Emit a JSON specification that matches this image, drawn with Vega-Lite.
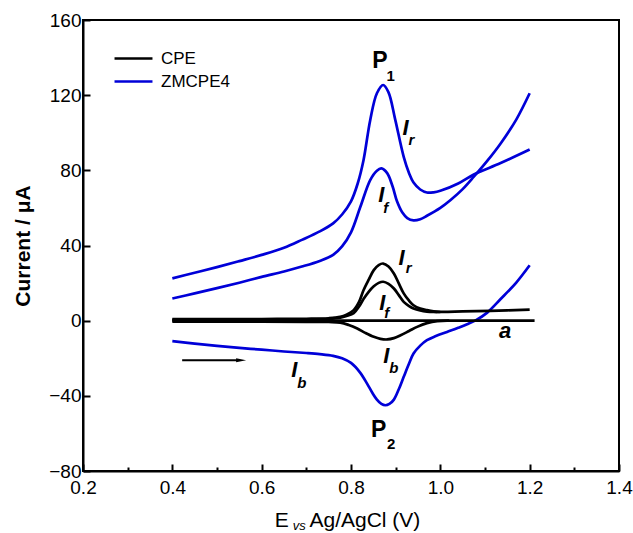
{
  "$schema": "https://vega.github.io/schema/vega-lite/v6.json",
  "autosize": {"type": "none"},
  "width": 536,
  "height": 451,
  "padding": {"left": 83, "top": 20, "right": 14, "bottom": 62},
  "background": "white",
  "config": {
    "view": {"stroke": "black", "strokeWidth": 2},
    "font": "Liberation Sans",
    "axis": {
      "domainColor": "black",
      "domainWidth": 2,
      "tickColor": "black",
      "tickWidth": 2,
      "labelColor": "black",
      "labelFont": "Liberation Sans",
      "labelFontSize": 19,
      "titleColor": "black",
      "titleFont": "Liberation Sans",
      "grid": false
    }
  },
  "datasets": {
    "curves": [
      {"electrode": "ZMCPE4", "trace": "Ir", "E": 0.40, "I": 22.5},
      {"electrode": "ZMCPE4", "trace": "Ir", "E": 0.45, "I": 25.5},
      {"electrode": "ZMCPE4", "trace": "Ir", "E": 0.50, "I": 28.5},
      {"electrode": "ZMCPE4", "trace": "Ir", "E": 0.55, "I": 31.7},
      {"electrode": "ZMCPE4", "trace": "Ir", "E": 0.60, "I": 35.0},
      {"electrode": "ZMCPE4", "trace": "Ir", "E": 0.65, "I": 38.8},
      {"electrode": "ZMCPE4", "trace": "Ir", "E": 0.69, "I": 43.0},
      {"electrode": "ZMCPE4", "trace": "Ir", "E": 0.73, "I": 47.5},
      {"electrode": "ZMCPE4", "trace": "Ir", "E": 0.76, "I": 51.8},
      {"electrode": "ZMCPE4", "trace": "Ir", "E": 0.78, "I": 56.5},
      {"electrode": "ZMCPE4", "trace": "Ir", "E": 0.80, "I": 63.5},
      {"electrode": "ZMCPE4", "trace": "Ir", "E": 0.815, "I": 73.0},
      {"electrode": "ZMCPE4", "trace": "Ir", "E": 0.828, "I": 85.4},
      {"electrode": "ZMCPE4", "trace": "Ir", "E": 0.843, "I": 106.7},
      {"electrode": "ZMCPE4", "trace": "Ir", "E": 0.858, "I": 121.0},
      {"electrode": "ZMCPE4", "trace": "Ir", "E": 0.872, "I": 125.4},
      {"electrode": "ZMCPE4", "trace": "Ir", "E": 0.884, "I": 121.5},
      {"electrode": "ZMCPE4", "trace": "Ir", "E": 0.899, "I": 107.0},
      {"electrode": "ZMCPE4", "trace": "Ir", "E": 0.918, "I": 87.2},
      {"electrode": "ZMCPE4", "trace": "Ir", "E": 0.93, "I": 78.5},
      {"electrode": "ZMCPE4", "trace": "Ir", "E": 0.94, "I": 73.5},
      {"electrode": "ZMCPE4", "trace": "Ir", "E": 0.955, "I": 69.8},
      {"electrode": "ZMCPE4", "trace": "Ir", "E": 0.97, "I": 68.2},
      {"electrode": "ZMCPE4", "trace": "Ir", "E": 0.985, "I": 68.3},
      {"electrode": "ZMCPE4", "trace": "Ir", "E": 1.00, "I": 69.1},
      {"electrode": "ZMCPE4", "trace": "Ir", "E": 1.04, "I": 73.0},
      {"electrode": "ZMCPE4", "trace": "Ir", "E": 1.075, "I": 77.8},
      {"electrode": "ZMCPE4", "trace": "Ir", "E": 1.135, "I": 83.9},
      {"electrode": "ZMCPE4", "trace": "Ir", "E": 1.20, "I": 91.1},

      {"electrode": "ZMCPE4", "trace": "If", "E": 0.40, "I": 11.8},
      {"electrode": "ZMCPE4", "trace": "If", "E": 0.45, "I": 14.5},
      {"electrode": "ZMCPE4", "trace": "If", "E": 0.50, "I": 17.3},
      {"electrode": "ZMCPE4", "trace": "If", "E": 0.55, "I": 20.2},
      {"electrode": "ZMCPE4", "trace": "If", "E": 0.60, "I": 23.3},
      {"electrode": "ZMCPE4", "trace": "If", "E": 0.65, "I": 26.2},
      {"electrode": "ZMCPE4", "trace": "If", "E": 0.69, "I": 28.8},
      {"electrode": "ZMCPE4", "trace": "If", "E": 0.73, "I": 31.8},
      {"electrode": "ZMCPE4", "trace": "If", "E": 0.76, "I": 35.0},
      {"electrode": "ZMCPE4", "trace": "If", "E": 0.78, "I": 39.5},
      {"electrode": "ZMCPE4", "trace": "If", "E": 0.80, "I": 47.0},
      {"electrode": "ZMCPE4", "trace": "If", "E": 0.821, "I": 60.6},
      {"electrode": "ZMCPE4", "trace": "If", "E": 0.843, "I": 74.8},
      {"electrode": "ZMCPE4", "trace": "If", "E": 0.858, "I": 79.8},
      {"electrode": "ZMCPE4", "trace": "If", "E": 0.868, "I": 81.0},
      {"electrode": "ZMCPE4", "trace": "If", "E": 0.881, "I": 78.5},
      {"electrode": "ZMCPE4", "trace": "If", "E": 0.893, "I": 71.5},
      {"electrode": "ZMCPE4", "trace": "If", "E": 0.903, "I": 63.5},
      {"electrode": "ZMCPE4", "trace": "If", "E": 0.915, "I": 57.5},
      {"electrode": "ZMCPE4", "trace": "If", "E": 0.926, "I": 54.6},
      {"electrode": "ZMCPE4", "trace": "If", "E": 0.94, "I": 53.4},
      {"electrode": "ZMCPE4", "trace": "If", "E": 0.955, "I": 54.0},
      {"electrode": "ZMCPE4", "trace": "If", "E": 0.97, "I": 55.8},
      {"electrode": "ZMCPE4", "trace": "If", "E": 1.00, "I": 60.0},
      {"electrode": "ZMCPE4", "trace": "If", "E": 1.023, "I": 64.2},
      {"electrode": "ZMCPE4", "trace": "If", "E": 1.05, "I": 70.0},
      {"electrode": "ZMCPE4", "trace": "If", "E": 1.075, "I": 76.6},
      {"electrode": "ZMCPE4", "trace": "If", "E": 1.105, "I": 85.0},
      {"electrode": "ZMCPE4", "trace": "If", "E": 1.135, "I": 94.3},
      {"electrode": "ZMCPE4", "trace": "If", "E": 1.17, "I": 107.0},
      {"electrode": "ZMCPE4", "trace": "If", "E": 1.20, "I": 121.0},

      {"electrode": "ZMCPE4", "trace": "Ib", "E": 0.40, "I": -10.9},
      {"electrode": "ZMCPE4", "trace": "Ib", "E": 0.45, "I": -12.2},
      {"electrode": "ZMCPE4", "trace": "Ib", "E": 0.50, "I": -13.4},
      {"electrode": "ZMCPE4", "trace": "Ib", "E": 0.55, "I": -14.5},
      {"electrode": "ZMCPE4", "trace": "Ib", "E": 0.60, "I": -15.4},
      {"electrode": "ZMCPE4", "trace": "Ib", "E": 0.65, "I": -16.4},
      {"electrode": "ZMCPE4", "trace": "Ib", "E": 0.70, "I": -17.2},
      {"electrode": "ZMCPE4", "trace": "Ib", "E": 0.73, "I": -17.8},
      {"electrode": "ZMCPE4", "trace": "Ib", "E": 0.76, "I": -18.7},
      {"electrode": "ZMCPE4", "trace": "Ib", "E": 0.78, "I": -20.0},
      {"electrode": "ZMCPE4", "trace": "Ib", "E": 0.80, "I": -22.5},
      {"electrode": "ZMCPE4", "trace": "Ib", "E": 0.82, "I": -27.5},
      {"electrode": "ZMCPE4", "trace": "Ib", "E": 0.836, "I": -33.5},
      {"electrode": "ZMCPE4", "trace": "Ib", "E": 0.848, "I": -38.5},
      {"electrode": "ZMCPE4", "trace": "Ib", "E": 0.858, "I": -42.0},
      {"electrode": "ZMCPE4", "trace": "Ib", "E": 0.868, "I": -44.3},
      {"electrode": "ZMCPE4", "trace": "Ib", "E": 0.877, "I": -45.0},
      {"electrode": "ZMCPE4", "trace": "Ib", "E": 0.886, "I": -44.3},
      {"electrode": "ZMCPE4", "trace": "Ib", "E": 0.896, "I": -42.0},
      {"electrode": "ZMCPE4", "trace": "Ib", "E": 0.907, "I": -36.5},
      {"electrode": "ZMCPE4", "trace": "Ib", "E": 0.918, "I": -29.9},
      {"electrode": "ZMCPE4", "trace": "Ib", "E": 0.93, "I": -22.8},
      {"electrode": "ZMCPE4", "trace": "Ib", "E": 0.94, "I": -17.5},
      {"electrode": "ZMCPE4", "trace": "Ib", "E": 0.955, "I": -13.3},
      {"electrode": "ZMCPE4", "trace": "Ib", "E": 0.97, "I": -10.4},
      {"electrode": "ZMCPE4", "trace": "Ib", "E": 0.99, "I": -8.2},
      {"electrode": "ZMCPE4", "trace": "Ib", "E": 1.015, "I": -6.0},
      {"electrode": "ZMCPE4", "trace": "Ib", "E": 1.04, "I": -3.8},
      {"electrode": "ZMCPE4", "trace": "Ib", "E": 1.06, "I": -1.9},
      {"electrode": "ZMCPE4", "trace": "Ib", "E": 1.08, "I": 0.3},
      {"electrode": "ZMCPE4", "trace": "Ib", "E": 1.105, "I": 4.3},
      {"electrode": "ZMCPE4", "trace": "Ib", "E": 1.135, "I": 11.5},
      {"electrode": "ZMCPE4", "trace": "Ib", "E": 1.17, "I": 20.3},
      {"electrode": "ZMCPE4", "trace": "Ib", "E": 1.20, "I": 29.5},

      {"electrode": "CPE", "trace": "Ir", "E": 0.40, "I": 0.8},
      {"electrode": "CPE", "trace": "Ir", "E": 0.50, "I": 0.8},
      {"electrode": "CPE", "trace": "Ir", "E": 0.60, "I": 0.9},
      {"electrode": "CPE", "trace": "Ir", "E": 0.70, "I": 1.0},
      {"electrode": "CPE", "trace": "Ir", "E": 0.75, "I": 1.3},
      {"electrode": "CPE", "trace": "Ir", "E": 0.776, "I": 2.0},
      {"electrode": "CPE", "trace": "Ir", "E": 0.79, "I": 3.2},
      {"electrode": "CPE", "trace": "Ir", "E": 0.806, "I": 5.6},
      {"electrode": "CPE", "trace": "Ir", "E": 0.818, "I": 10.0},
      {"electrode": "CPE", "trace": "Ir", "E": 0.828, "I": 16.2},
      {"electrode": "CPE", "trace": "Ir", "E": 0.84, "I": 22.0},
      {"electrode": "CPE", "trace": "Ir", "E": 0.851, "I": 26.9},
      {"electrode": "CPE", "trace": "Ir", "E": 0.862, "I": 29.6},
      {"electrode": "CPE", "trace": "Ir", "E": 0.872, "I": 30.4},
      {"electrode": "CPE", "trace": "Ir", "E": 0.884, "I": 28.8},
      {"electrode": "CPE", "trace": "Ir", "E": 0.896, "I": 25.1},
      {"electrode": "CPE", "trace": "Ir", "E": 0.907, "I": 19.8},
      {"electrode": "CPE", "trace": "Ir", "E": 0.918, "I": 14.5},
      {"electrode": "CPE", "trace": "Ir", "E": 0.93, "I": 10.6},
      {"electrode": "CPE", "trace": "Ir", "E": 0.94, "I": 8.2},
      {"electrode": "CPE", "trace": "Ir", "E": 0.955, "I": 6.4},
      {"electrode": "CPE", "trace": "Ir", "E": 0.97, "I": 5.6},
      {"electrode": "CPE", "trace": "Ir", "E": 0.985, "I": 5.0},
      {"electrode": "CPE", "trace": "Ir", "E": 1.00, "I": 4.7},
      {"electrode": "CPE", "trace": "Ir", "E": 1.05, "I": 4.9},
      {"electrode": "CPE", "trace": "Ir", "E": 1.112, "I": 5.2},
      {"electrode": "CPE", "trace": "Ir", "E": 1.20, "I": 5.9},

      {"electrode": "CPE", "trace": "If", "E": 0.40, "I": 0.5},
      {"electrode": "CPE", "trace": "If", "E": 0.50, "I": 0.5},
      {"electrode": "CPE", "trace": "If", "E": 0.60, "I": 0.6},
      {"electrode": "CPE", "trace": "If", "E": 0.70, "I": 0.7},
      {"electrode": "CPE", "trace": "If", "E": 0.75, "I": 1.0},
      {"electrode": "CPE", "trace": "If", "E": 0.776, "I": 1.6},
      {"electrode": "CPE", "trace": "If", "E": 0.79, "I": 2.5},
      {"electrode": "CPE", "trace": "If", "E": 0.806, "I": 4.0},
      {"electrode": "CPE", "trace": "If", "E": 0.818, "I": 7.5},
      {"electrode": "CPE", "trace": "If", "E": 0.828, "I": 11.5},
      {"electrode": "CPE", "trace": "If", "E": 0.84, "I": 15.5},
      {"electrode": "CPE", "trace": "If", "E": 0.851, "I": 18.3},
      {"electrode": "CPE", "trace": "If", "E": 0.862, "I": 20.1},
      {"electrode": "CPE", "trace": "If", "E": 0.872, "I": 20.7},
      {"electrode": "CPE", "trace": "If", "E": 0.884, "I": 19.6},
      {"electrode": "CPE", "trace": "If", "E": 0.896, "I": 17.1},
      {"electrode": "CPE", "trace": "If", "E": 0.907, "I": 13.6},
      {"electrode": "CPE", "trace": "If", "E": 0.918, "I": 10.0},
      {"electrode": "CPE", "trace": "If", "E": 0.93, "I": 7.8},
      {"electrode": "CPE", "trace": "If", "E": 0.94, "I": 6.5},
      {"electrode": "CPE", "trace": "If", "E": 0.955, "I": 5.4},
      {"electrode": "CPE", "trace": "If", "E": 0.97, "I": 4.8},
      {"electrode": "CPE", "trace": "If", "E": 0.985, "I": 4.6},
      {"electrode": "CPE", "trace": "If", "E": 1.00, "I": 4.6},

      {"electrode": "CPE", "trace": "Ib", "E": 0.40, "I": -0.5},
      {"electrode": "CPE", "trace": "Ib", "E": 0.60, "I": -0.5},
      {"electrode": "CPE", "trace": "Ib", "E": 0.70, "I": -0.6},
      {"electrode": "CPE", "trace": "Ib", "E": 0.75, "I": -0.7},
      {"electrode": "CPE", "trace": "Ib", "E": 0.776, "I": -1.0},
      {"electrode": "CPE", "trace": "Ib", "E": 0.795, "I": -2.3},
      {"electrode": "CPE", "trace": "Ib", "E": 0.814, "I": -4.2},
      {"electrode": "CPE", "trace": "Ib", "E": 0.832, "I": -6.5},
      {"electrode": "CPE", "trace": "Ib", "E": 0.851, "I": -8.6},
      {"electrode": "CPE", "trace": "Ib", "E": 0.866, "I": -9.7},
      {"electrode": "CPE", "trace": "Ib", "E": 0.881, "I": -10.0},
      {"electrode": "CPE", "trace": "Ib", "E": 0.896, "I": -9.3},
      {"electrode": "CPE", "trace": "Ib", "E": 0.911, "I": -7.8},
      {"electrode": "CPE", "trace": "Ib", "E": 0.93, "I": -5.5},
      {"electrode": "CPE", "trace": "Ib", "E": 0.948, "I": -3.3},
      {"electrode": "CPE", "trace": "Ib", "E": 0.97, "I": -1.3},
      {"electrode": "CPE", "trace": "Ib", "E": 0.993, "I": -0.2},
      {"electrode": "CPE", "trace": "Ib", "E": 1.02, "I": 0.0},

      {"electrode": "CPE", "trace": "a", "E": 0.40, "I": 0.0},
      {"electrode": "CPE", "trace": "a", "E": 1.211, "I": 0.0}
    ],
    "arrow": [
      {"E": 0.422, "E2": 0.545, "I": -21.0, "Ehead": 0.554}
    ],
    "notes": [
      {"kind": "peak", "text": "P", "E": 0.865, "I": 134.3},
      {"kind": "peakIndex", "text": "1", "E": 0.889, "I": 127.7},
      {"kind": "peak", "text": "P", "E": 0.862, "I": -61.9},
      {"kind": "peakIndex", "text": "2", "E": 0.890, "I": -68.1},
      {"kind": "current", "text": "I", "E": 0.922, "I": 98.8},
      {"kind": "currentSub", "text": "r", "E": 0.935, "I": 93.4},
      {"kind": "current", "text": "I", "E": 0.868, "I": 63.3},
      {"kind": "currentSub", "text": "f", "E": 0.878, "I": 57.1},
      {"kind": "current", "text": "I", "E": 0.913, "I": 29.5},
      {"kind": "currentSub", "text": "r", "E": 0.929, "I": 25.1},
      {"kind": "current", "text": "I", "E": 0.870, "I": 5.6},
      {"kind": "currentSub", "text": "f", "E": 0.880, "I": 1.2},
      {"kind": "current", "text": "I", "E": 0.879, "I": -22.3},
      {"kind": "currentSub", "text": "b", "E": 0.896, "I": -28.1},
      {"kind": "current", "text": "I", "E": 0.673, "I": -30.0},
      {"kind": "currentSub", "text": "b", "E": 0.690, "I": -35.6},
      {"kind": "current", "text": "a", "E": 1.145, "I": -9.0}
    ],
    "xTitle": [
      {"part": "symbol", "text": "E", "E": 0.645, "I": -109.8},
      {"part": "sub", "text": "vs", "E": 0.684, "I": -111.2},
      {"part": "unit", "text": "Ag/AgCl (V)", "E": 0.707, "I": -109.8}
    ]
  },
  "layer": [
    {
      "data": {"name": "curves"},
      "mark": {"type": "line", "strokeWidth": 2.7, "interpolate": "catmull-rom", "clip": true},
      "encoding": {
        "x": {
          "field": "E", "type": "quantitative",
          "scale": {"domain": [0.2, 1.4], "nice": false, "zero": false},
          "axis": {
            "title": null,
            "values": [0.2, 0.3, 0.4, 0.5, 0.6, 0.7, 0.8, 0.9, 1.0, 1.1, 1.2, 1.3, 1.4],
            "labelExpr": "abs(round(datum.value * 10)) % 2 == 0 ? format(datum.value, '.1f') : ''",
            "tickSize": {"condition": {"test": "abs(round(datum.value * 10)) % 2 == 1", "value": -4}, "value": -7},
            "labelPadding": 14,
            "labelFlush": false,
            "labelOverlap": false
          }
        },
        "y": {
          "field": "I", "type": "quantitative",
          "scale": {"domain": [-80, 160], "nice": false, "zero": false},
          "axis": {
            "title": "Current / \u03bcA",
            "titleFontSize": 21,
            "titleFontWeight": "bold",
            "titlePadding": 15,
            "values": [-80, -60, -40, -20, 0, 20, 40, 60, 80, 100, 120, 140, 160],
            "labelExpr": "datum.value % 40 == 0 ? format(datum.value, 'd') : ''",
            "tickSize": {"condition": {"test": "datum.value % 40 != 0", "value": -4}, "value": -7},
            "labelPadding": 9,
            "labelFlush": false,
            "labelOverlap": false
          }
        },
        "color": {
          "field": "electrode", "type": "nominal",
          "scale": {"domain": ["CPE", "ZMCPE4"], "range": ["#000000", "#0000d8"]},
          "legend": {
            "orient": "none",
            "legendX": 42,
            "legendY": 30,
            "title": null,
            "padding": 0,
            "symbolType": "M -4 0 H 4",
            "symbolSize": 90,
            "symbolStrokeWidth": 2.7,
            "labelOffset": 19,
            "rowPadding": 5,
            "labelFont": "Liberation Sans",
            "labelFontSize": 17,
            "labelColor": "black"
          }
        },
        "detail": {"field": "trace", "type": "nominal"}
      }
    },
    {
      "data": {"name": "arrow"},
      "mark": {"type": "rule", "strokeWidth": 2, "color": "black"},
      "encoding": {
        "x": {"field": "E", "type": "quantitative"},
        "x2": {"field": "E2"},
        "y": {"field": "I", "type": "quantitative"}
      }
    },
    {
      "data": {"name": "arrow"},
      "mark": {"type": "point", "shape": "M -1 -0.4 L 1 0 L -1 0.4 Z", "size": 100, "filled": true, "color": "black", "opacity": 1, "strokeWidth": 0},
      "encoding": {
        "x": {"field": "Ehead", "type": "quantitative"},
        "y": {"field": "I", "type": "quantitative"}
      }
    },
    {
      "data": {"name": "notes"},
      "transform": [{"filter": "datum.kind == 'peak'"}],
      "mark": {"type": "text", "font": "Liberation Sans", "fontSize": 23, "fontWeight": "bold", "align": "center", "baseline": "alphabetic", "color": "black"},
      "encoding": {
        "x": {"field": "E", "type": "quantitative"},
        "y": {"field": "I", "type": "quantitative"},
        "text": {"field": "text"}
      }
    },
    {
      "data": {"name": "notes"},
      "transform": [{"filter": "datum.kind == 'peakIndex'"}],
      "mark": {"type": "text", "font": "Liberation Sans", "fontSize": 15, "fontWeight": "bold", "align": "center", "baseline": "alphabetic", "color": "black"},
      "encoding": {
        "x": {"field": "E", "type": "quantitative"},
        "y": {"field": "I", "type": "quantitative"},
        "text": {"field": "text"}
      }
    },
    {
      "data": {"name": "notes"},
      "transform": [{"filter": "datum.kind == 'current'"}],
      "mark": {"type": "text", "font": "Liberation Sans", "fontSize": 22, "fontWeight": "bold", "fontStyle": "italic", "align": "center", "baseline": "alphabetic", "color": "black"},
      "encoding": {
        "x": {"field": "E", "type": "quantitative"},
        "y": {"field": "I", "type": "quantitative"},
        "text": {"field": "text"}
      }
    },
    {
      "data": {"name": "notes"},
      "transform": [{"filter": "datum.kind == 'currentSub'"}],
      "mark": {"type": "text", "font": "Liberation Sans", "fontSize": 15, "fontWeight": "bold", "fontStyle": "italic", "align": "center", "baseline": "alphabetic", "color": "black"},
      "encoding": {
        "x": {"field": "E", "type": "quantitative"},
        "y": {"field": "I", "type": "quantitative"},
        "text": {"field": "text"}
      }
    },
    {
      "data": {"name": "xTitle"},
      "transform": [{"filter": "datum.part == 'symbol'"}],
      "mark": {"type": "text", "font": "Liberation Sans", "fontSize": 21, "align": "center", "baseline": "alphabetic", "color": "black"},
      "encoding": {
        "x": {"field": "E", "type": "quantitative"},
        "y": {"field": "I", "type": "quantitative"},
        "text": {"field": "text"}
      }
    },
    {
      "data": {"name": "xTitle"},
      "transform": [{"filter": "datum.part == 'sub'"}],
      "mark": {"type": "text", "font": "Liberation Sans", "fontSize": 13, "fontStyle": "italic", "align": "center", "baseline": "alphabetic", "color": "black"},
      "encoding": {
        "x": {"field": "E", "type": "quantitative"},
        "y": {"field": "I", "type": "quantitative"},
        "text": {"field": "text"}
      }
    },
    {
      "data": {"name": "xTitle"},
      "transform": [{"filter": "datum.part == 'unit'"}],
      "mark": {"type": "text", "font": "Liberation Sans", "fontSize": 21, "align": "left", "baseline": "alphabetic", "color": "black"},
      "encoding": {
        "x": {"field": "E", "type": "quantitative"},
        "y": {"field": "I", "type": "quantitative"},
        "text": {"field": "text"}
      }
    }
  ]
}
